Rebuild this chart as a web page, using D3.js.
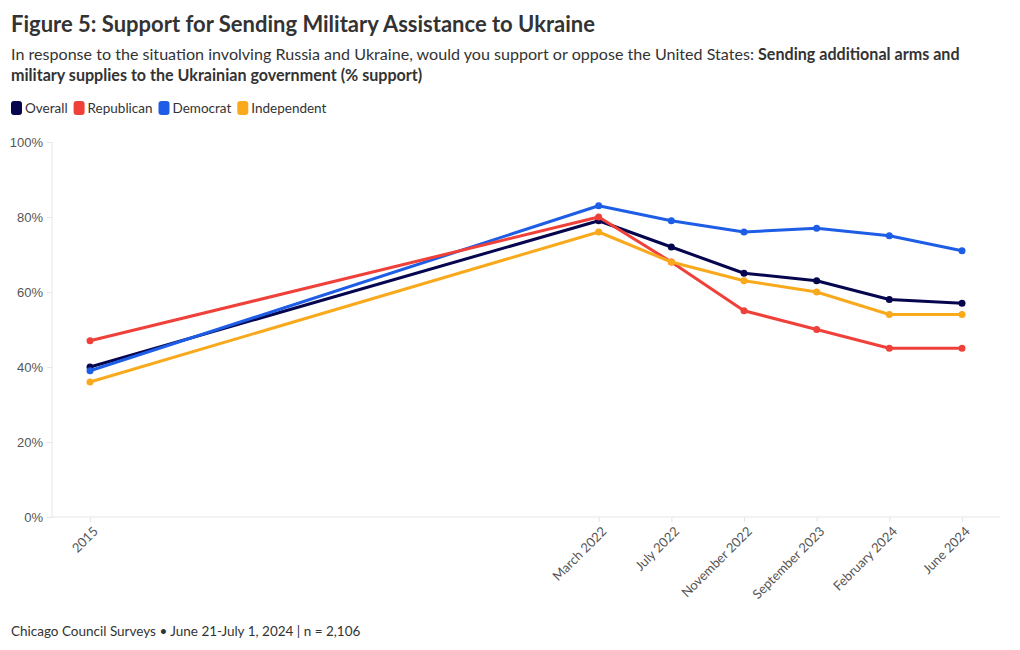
<!DOCTYPE html>
<html>
<head>
<meta charset="utf-8">
<script src="https://cdn.jsdelivr.net/npm/d3@7"></script>
<style>
  html, body { margin: 0; padding: 0; background: #fff; }
  body { width: 1020px; height: 650px; overflow: hidden; font-family: "Source Sans Pro", Lato, "Noto Sans", sans-serif; }
  svg text { font-family: "Source Sans Pro", Lato, "Noto Sans", sans-serif; }
</style>
</head>
<body>
<svg id="chart" width="1020" height="650"></svg>
<script>
const categories = ["2015", "March 2022", "July 2022", "November 2022", "September 2023", "February 2024", "June 2024"];
const categorySlots = [0, 7, 8, 9, 10, 11, 12];
const overall     = [40, 79, 72, 65, 63, 58, 57];
const republican  = [47, 80, 68, 55, 50, 45, 45];
const democrat    = [39, 83, 79, 76, 77, 75, 71];
const independent = [36, 76, 68, 63, 60, 54, 54];
const seriesNames = ["Overall", "Republican", "Democrat", "Independent"];
const seriesColors = ["#06064f", "#f0403a", "#1e5de6", "#f9a91c"];
const yTicks = [0, 20, 40, 60, 80, 100];

const series = [
  { name: seriesNames[0], color: seriesColors[0], values: overall },
  { name: seriesNames[1], color: seriesColors[1], values: republican },
  { name: seriesNames[2], color: seriesColors[2], values: democrat },
  { name: seriesNames[3], color: seriesColors[3], values: independent }
];

const svg = d3.select("#chart");
const textColor = "#333333";

// Title
svg.append("text").attr("x", 11).attr("y", 32)
  .attr("font-size", 22).attr("font-weight", 700).attr("fill", textColor)
  .text("Figure 5: Support for Sending Military Assistance to Ukraine");

const sub1 = svg.append("text").attr("x", 11).attr("y", 60).attr("font-size", 16.1).attr("fill", textColor);
sub1.append("tspan").text("In response to the situation involving Russia and Ukraine, would you support or oppose the United States: ");
sub1.append("tspan").attr("font-weight", 700).text("Sending additional arms and");
svg.append("text").attr("x", 11).attr("y", 81).attr("font-size", 16.1).attr("font-weight", 700).attr("fill", textColor)
  .text("military supplies to the Ukrainian government (% support)");

// Legend
const legend = svg.append("g").attr("transform", "translate(11,101)");
let lx = 0;
series.forEach(s => {
  const g = legend.append("g").attr("transform", `translate(${lx},0)`);
  g.append("rect").attr("x", 0).attr("y", 0).attr("width", 11).attr("height", 14).attr("rx", 3).attr("fill", s.color);
  const t = g.append("text").attr("x", 14).attr("y", 12).attr("font-size", 13.5).attr("fill", textColor).text(s.name);
  lx += 14 + t.node().getComputedTextLength() + 6;
});

// Scales
const x = d3.scaleLinear().domain([0, 12]).range([90, 962]);
const y = d3.scaleLinear().domain([0, 100]).range([517, 142]);
const plotLeft = 52, plotRight = 1000;

// Axis lines
svg.append("line").attr("x1", plotLeft).attr("x2", plotLeft).attr("y1", 142).attr("y2", 517).attr("stroke", "#e6e6e6");
svg.append("line").attr("x1", plotLeft).attr("x2", plotRight).attr("y1", 517).attr("y2", 517).attr("stroke", "#e6e6e6");

// Y axis
const yAxis = d3.axisLeft(y).tickValues(yTicks).tickFormat(d => d + "%").tickSize(5).tickPadding(4);
const yg = svg.append("g").attr("transform", `translate(${plotLeft},0)`).call(yAxis);
yg.select(".domain").remove();
yg.selectAll(".tick line").attr("stroke", "#e6e6e6");
yg.selectAll(".tick text").attr("font-size", 13).attr("fill", "#555").style("font-family", "inherit");

// X axis
const xAxis = d3.axisBottom(x).tickValues(categorySlots).tickFormat((d, i) => categories[i]).tickSize(5).tickPadding(4);
const xg = svg.append("g").attr("transform", "translate(0,517)").call(xAxis);
xg.select(".domain").remove();
xg.selectAll(".tick line").attr("stroke", "#e6e6e6");
xg.selectAll(".tick text")
  .attr("font-size", 13).attr("fill", "#555")
  .attr("text-anchor", "end")
  .attr("dy", "0.35em")
  .attr("transform", "translate(5,12) rotate(-45)")
  .attr("y", 0).attr("x", 0);

// Lines (draw order)
const line = d3.line().x((d, i) => x(categorySlots[i])).y(d => y(d));
const drawOrder = [series[0], series[2], series[1], series[3]];
drawOrder.forEach(s => {
  const g = svg.append("g");
  g.append("path").datum(s.values).attr("d", line).attr("fill", "none")
    .attr("stroke", s.color).attr("stroke-width", 3).attr("stroke-linejoin", "round");
  g.selectAll("circle").data(s.values).join("circle")
    .attr("cx", (d, i) => x(categorySlots[i])).attr("cy", d => y(d)).attr("r", 3.5).attr("fill", s.color);
});

// Footer
svg.append("text").attr("x", 11).attr("y", 636).attr("font-size", 13.5).attr("fill", textColor)
  .text("Chicago Council Surveys • June 21-July 1, 2024 | n = 2,106");
</script>
</body>
</html>
